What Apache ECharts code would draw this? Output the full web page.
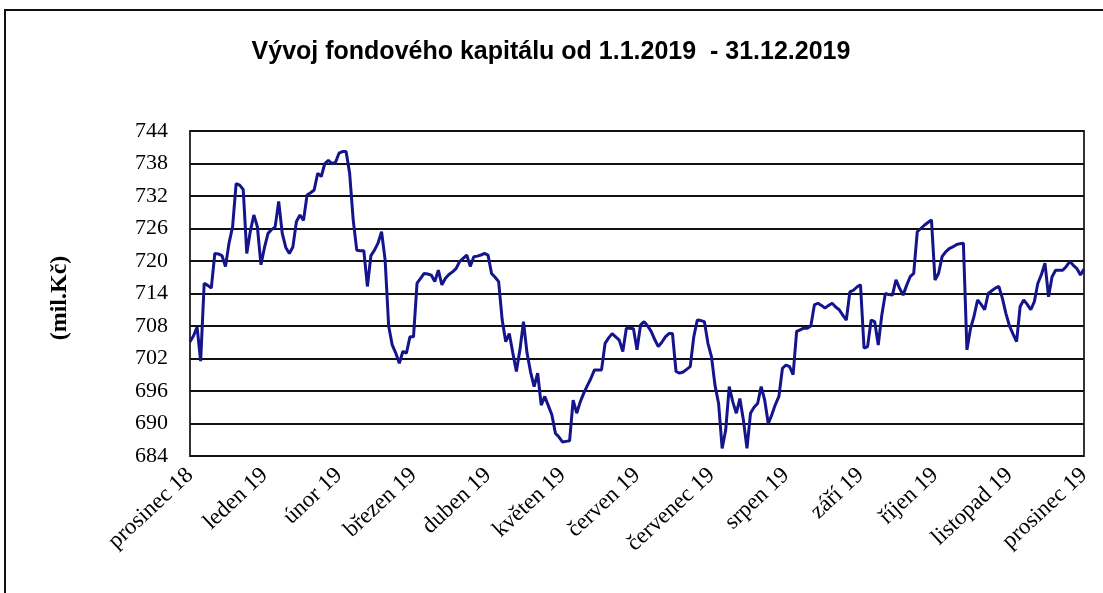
<!DOCTYPE html>
<html>
<head>
<meta charset="utf-8">
<script src="https://cdn.jsdelivr.net/npm/echarts@6/dist/echarts.min.js"></script>
<style>
html,body{margin:0;padding:0;background:#fff;}
#chart{width:1103px;height:593px;}
</style>
</head>
<body>
<div id="chart"></div>
<script>
var titleText = 'Vývoj fondového kapitálu od 1.1.2019  - 31.12.2019';
var yAxisName = '(mil.Kč)';
var monthLabels = ['prosinec 18','leden 19','únor 19','březen 19','duben 19','květen 19','červen 19','červenec 19','srpen 19','září 19','říjen 19','listopad 19','prosinec 19'];
var yTicks = {min: 684, max: 744, step: 6};
var values = [
705.1,706.2,707.8,701.5,715.9,715.5,715.0,721.4,721.3,721.0,
719.0,723.3,726.3,734.3,734.0,733.2,721.4,725.5,728.5,726.3,
719.3,722.5,725.1,725.8,726.3,731.0,725.1,722.5,721.4,722.6,
727.3,728.5,727.5,732.2,732.6,733.1,736.2,735.6,738.0,738.6,
738.0,738.2,739.9,740.2,740.2,736.2,727.6,722.0,721.9,721.9,
715.3,721.0,722.0,723.3,725.4,720.2,708.0,704.5,703.0,701.1,
703.3,703.0,706.0,706.0,715.9,716.8,717.7,717.6,717.4,716.2,
718.3,715.6,716.8,717.5,718.0,718.6,719.9,720.5,721.1,719.0,
720.8,720.9,721.1,721.4,721.1,717.7,717.0,716.2,709.1,705.1,
706.6,703.0,699.6,703.6,708.8,703.0,699.5,696.8,699.3,693.4,
695.0,693.3,691.6,688.2,687.5,686.6,686.7,686.8,694.3,691.9,
694.0,695.6,697.0,698.3,699.9,699.9,699.9,704.8,705.8,706.6,
706.0,705.4,703.3,707.6,707.6,707.5,703.6,708.2,708.8,708.0,
707.0,705.5,704.2,705.0,706.0,706.6,706.6,699.6,699.3,699.5,
700.0,700.5,706.0,709.1,709.0,708.8,704.8,702.3,697.0,693.7,
685.4,688.8,696.8,694.0,691.9,694.6,690.6,685.4,691.9,693.0,
693.7,696.8,694.3,690.0,691.6,693.5,695.0,700.2,700.8,700.5,
699.0,707.0,707.3,707.6,707.6,708.0,711.9,712.2,711.8,711.3,
711.8,712.2,711.5,711.0,710.0,709.1,714.3,714.6,715.2,715.6,
703.9,704.2,709.1,708.8,704.5,710.0,714.0,713.8,713.7,716.5,
715.0,713.7,715.5,717.1,717.7,725.4,726.0,726.6,727.1,727.6,
716.5,717.7,720.8,721.7,722.3,722.6,723.0,723.2,723.3,703.6,
707.5,709.8,712.8,712.0,711.0,714.0,714.5,715.0,715.3,713.1,
710.3,708.0,706.5,705.1,711.6,712.8,712.0,711.0,712.5,715.9,
717.5,719.6,713.4,717.1,718.3,718.3,718.3,719.0,719.9,719.2,
718.6,717.4,718.5
];

var lastIdx = values.length - 1;
var labelStep = lastIdx / (monthLabels.length - 1);
var seriesData = values.map(function (v, i) { return [i, v]; });

var chart = echarts.init(document.getElementById('chart'), null, {renderer: 'canvas'});
chart.setOption({
  backgroundColor: '#ffffff',
  animation: false,
  grid: {left: 190, right: 19, top: 131, bottom: 137, show: true, borderColor: '#333', borderWidth: 2, backgroundColor: 'transparent'},
  graphic: [
    {type: 'rect', shape: {x: 5, y: 10, width: 1200, height: 700}, style: {fill: 'none', stroke: '#111', lineWidth: 2}, silent: true, z: -1},
    {type: 'text', x: 551, y: 52, scaleX: 1.0, style: {text: titleText, font: 'bold 25px "Liberation Sans", Arial, sans-serif', fill: '#000', textAlign: 'center', textVerticalAlign: 'middle'}},
    {type: 'text', x: 60, y: 298, rotation: Math.PI / 2, style: {text: yAxisName, font: 'bold 24px "Liberation Serif", "Times New Roman", serif', fill: '#000', textAlign: 'center', textVerticalAlign: 'middle'}}
  ],
  xAxis: {
    type: 'value', min: 0, max: lastIdx, interval: labelStep,
    axisLine: {show: false}, axisTick: {show: false}, splitLine: {show: false},
    axisLabel: {
      rotate: 43, margin: 16, color: '#000', fontFamily: '"Liberation Serif", "Times New Roman", serif', fontSize: 23,
      formatter: function (v) { var k = Math.round(v / labelStep); return monthLabels[k] || ''; }
    }
  },
  yAxis: {
    type: 'value', min: yTicks.min, max: yTicks.max, interval: yTicks.step,
    axisLine: {show: false}, axisTick: {show: false},
    splitLine: {show: true, lineStyle: {color: '#111', width: 2}},
    axisLabel: {margin: 22, color: '#000', fontFamily: '"Liberation Serif", "Times New Roman", serif', fontSize: 22}
  },
  series: [{
    type: 'line', data: seriesData, showSymbol: false, smooth: false,
    lineStyle: {color: '#14148c', width: 3}
  }]
});
</script>
</body>
</html>
